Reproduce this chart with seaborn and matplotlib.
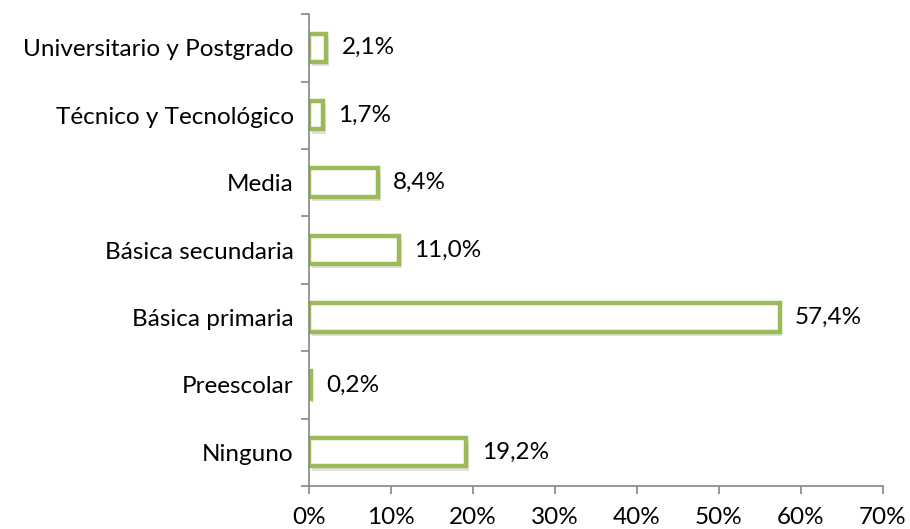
import numpy as np
import pandas as pd
import matplotlib.pyplot as plt
import matplotlib.patheffects as pe
from matplotlib.ticker import FuncFormatter, FixedLocator
import seaborn as sns

# datos: nivel educativo
niveles = ["Universitario y Postgrado", "Técnico y Tecnológico", "Media",
           "Básica secundaria", "Básica primaria", "Preescolar", "Ninguno"]
porcentajes = [2.1, 1.7, 8.4, 11.0, 57.4, 0.2, 19.2]
xticks = [0, 10, 20, 30, 40, 50, 60, 70]

sns.set_style("white")
plt.rcParams['font.family'] = ['Lato', 'DejaVu Sans']
plt.rcParams['text.color'] = 'black'
plt.rcParams['xtick.color'] = 'black'
plt.rcParams['ytick.color'] = 'black'

df = pd.DataFrame({"nivel": niveles, "pct": porcentajes})

fig = plt.figure(figsize=(9.1, 5.29), dpi=100)
ax = fig.add_axes([0.3396, 0.0813, 0.6307, 0.892])

verde = "#9BBB59"
gris = "#868686"
fs = 17.5

sns.barplot(data=df, x="pct", y="nivel", order=niveles, color="white",
            edgecolor=verde, linewidth=3.2, width=0.42, saturation=1, ax=ax)

for p in ax.patches:
    p.set_facecolor("white")
    p.set_path_effects([pe.SimplePatchShadow(offset=(2, -3), shadow_rgbFace="#999999", alpha=0.3),
                        pe.Normal()])

labels = [f"{v:.1f}".replace(".", ",") + "%" for v in porcentajes]
ax.bar_label(ax.containers[0], labels=labels, padding=11, fontsize=fs)

ax.set_xlim(0, 70)
ax.set_ylim(len(niveles) - 0.5, -0.5)
ax.set_xticks(xticks)
ax.xaxis.set_major_formatter(FuncFormatter(lambda v, _: f"{v:.0f}%"))
ax.set_xlabel("")
ax.set_ylabel("")

# marcas del eje y entre categorias
ax.yaxis.set_minor_locator(FixedLocator(np.arange(-0.5, len(niveles), 1)))
ax.tick_params(axis="y", which="major", length=0, pad=11, labelsize=fs)
ax.tick_params(axis="y", which="minor", length=6, width=1.2, color=gris, left=True)
ax.tick_params(axis="x", which="major", length=6, width=1.2, color=gris, bottom=True,
               pad=9, labelsize=fs)

for s in ["top", "right"]:
    ax.spines[s].set_visible(False)
for s in ["left", "bottom"]:
    ax.spines[s].set_color(gris)
    ax.spines[s].set_linewidth(1.2)

plt.savefig("out.png", dpi=100)
